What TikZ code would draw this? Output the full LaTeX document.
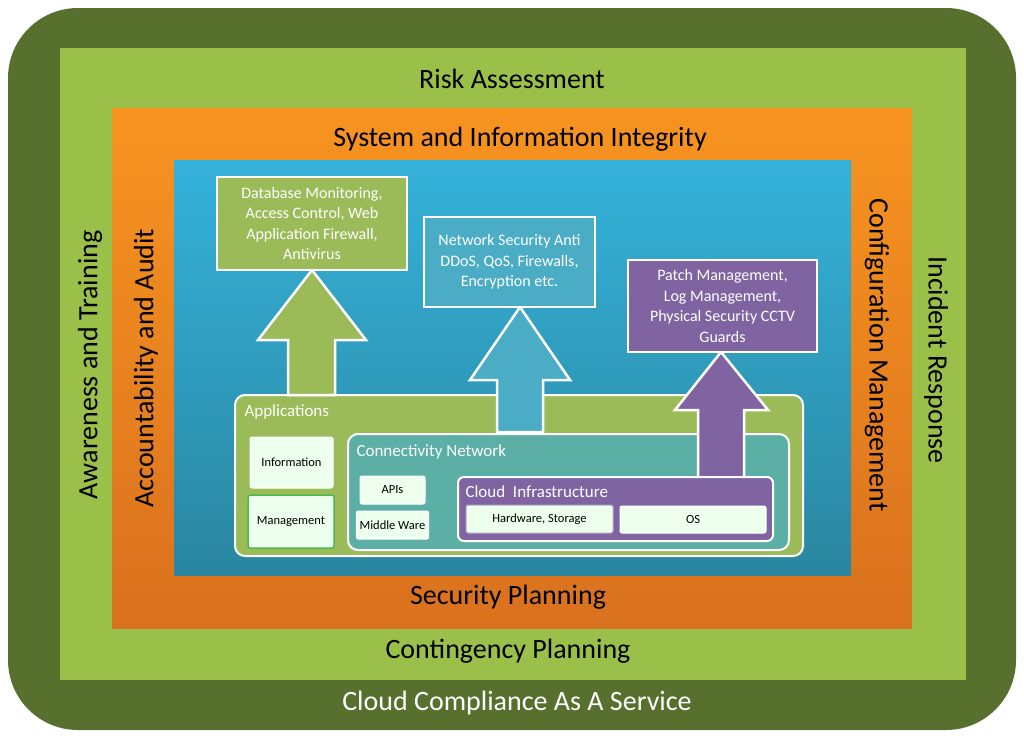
\documentclass[tikz,border=0pt]{standalone}
\usepackage{fontspec}
\setmainfont{Carlito}
\begin{document}
\begin{tikzpicture}[x=1pt,y=-1pt,
  big/.style={font=\fontsize{28}{30}\selectfont},
  box/.style={draw=white,line width=2pt,text=white,align=center,font=\fontsize{16}{20.5}\selectfont,inner sep=2pt},
  sm/.style={draw=white,line width=1pt,fill=white!93!green,rounded corners=2pt,font=\fontsize{12.5}{14}\selectfont},
  lab/.style={anchor=west,text=white,font=\fontsize{17}{18}\selectfont},
  arr/.style={draw=white,line width=2.5pt,line join=miter}]
\definecolor{olive}{HTML}{58702D}
\definecolor{lgreen}{HTML}{9BC04A}
\definecolor{agreen}{HTML}{9BBB59}
\definecolor{ablue}{HTML}{4BACC6}
\definecolor{apurple}{HTML}{8064A2}
\definecolor{teal2}{HTML}{5BAFA5}
\definecolor{otop}{HTML}{F79420}
\definecolor{obot}{HTML}{D9711E}
\definecolor{btop}{HTML}{35B2DA}
\definecolor{bbot}{HTML}{2A86A0}
\useasboundingbox (0,0) rectangle (1024,737);
\fill[olive,rounded corners=70pt] (8,8) rectangle (1016,730);
\fill[lgreen] (60,48) rectangle (966,680);
\shade[top color=otop,bottom color=obot] (112,108) rectangle (912,628);
\shade[top color=btop,bottom color=bbot] (174,160) rectangle (851,575);
\node[big] (risk) at (512,79) {Risk Assessment};
\node[big] (sii) at (520,139) {System and Information Integrity};
\node[big] (sp) at (508,597) {Security Planning};
\node[big] (cp) at (508,651) {Contingency Planning};
\node[big,text=white] (ccs) at (517,703) {Cloud Compliance As A Service};
\node[big,rotate=90] (aw) at (90,365) {Awareness and Training};
\node[big,rotate=90] (aa) at (146,368) {Accountability and Audit};
\node[big,rotate=-90] (cm) at (877,355) {Configuration Management};
\node[big,rotate=-90] (ir) at (936,360) {Incident Response};
% applications
\draw[draw=white,line width=2pt,fill=agreen,rounded corners=10pt] (235,395) rectangle (803,556);
\node[lab] (app) at (241,412) {Applications};
\node[sm,minimum width=83pt,minimum height=51pt] (info) at (291.5,462.5) {Information};
\node[sm,draw=green!60!black!70,line width=1.5pt,minimum width=86pt,minimum height=53pt] (mgmt) at (291,521.5) {Management};
\draw[draw=white,line width=2pt,fill=teal2,rounded corners=10pt] (348,434) rectangle (789,550);
\node[lab] (cn) at (353,452) {Connectivity Network};
\node[sm,minimum width=65pt,minimum height=28pt] (apis) at (392.5,490) {APIs};
\node[sm,minimum width=65pt,minimum height=28pt] (mw) at (392.5,525) {Middle Ware};
% arrows
\draw[arr,fill=agreen] (288,395) -- (288,340) -- (258,340) -- (312,270) -- (366,340) -- (335,340) -- (335,395) -- cycle;
\draw[arr,fill=ablue] (497,432) -- (497,380) -- (470,380) -- (520,307) -- (570,380) -- (543,380) -- (543,432) -- cycle;
\draw[arr,fill=apurple] (698,478) -- (698,410) -- (675,410) -- (721,352) -- (768,410) -- (744,410) -- (744,478) -- cycle;
\draw[draw=white,line width=2pt,fill=apurple,rounded corners=6pt] (458,477) rectangle (773,541);
\node[lab] (ci) at (462,492) {Cloud\ \ Infrastructure};
\node[sm,draw=apurple!60,minimum width=147pt,minimum height=28pt] (hw) at (539.5,519) {Hardware, Storage};
\node[sm,minimum width=146pt,minimum height=27pt] (os) at (693,519.5) {OS};
% top boxes
\node[box,fill=agreen,minimum width=190pt,minimum height=93pt] (b1) at (312,223.5) {Database Monitoring,\\Access Control, Web\\Application Firewall,\\Antivirus};
\node[box,fill=ablue,minimum width=171pt,minimum height=90pt] (b2) at (509.5,262) {Network Security Anti\\DDoS, QoS, Firewalls,\\Encryption etc.};
\node[box,fill=apurple,minimum width=189pt,minimum height=92pt] (b3) at (722.5,306) {Patch Management,\\Log Management,\\Physical Security CCTV\\Guards};
\end{tikzpicture}
\end{document}
